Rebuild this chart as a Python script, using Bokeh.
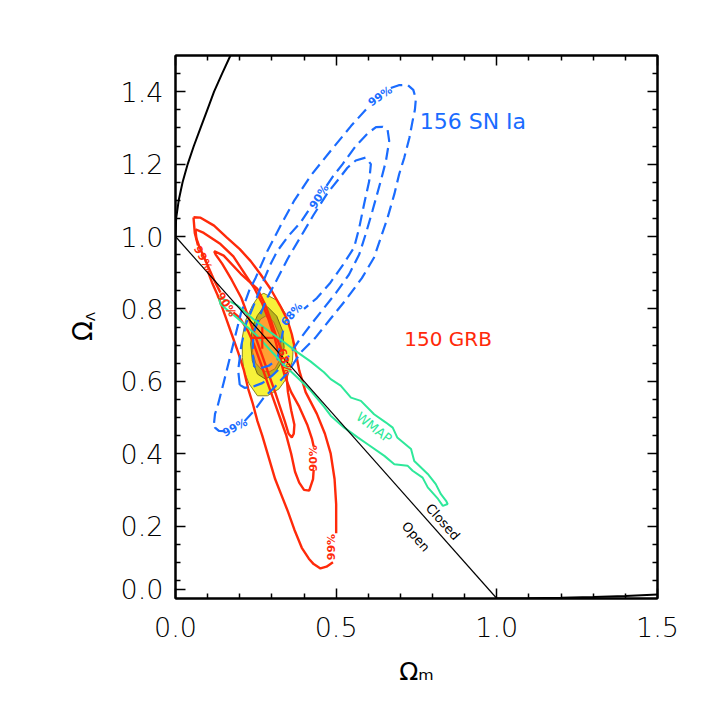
import math
from bokeh.plotting import figure
from bokeh.models import Range1d, FixedTicker, CustomJSTickFormatter, LinearAxis
from bokeh.embed import file_html
from bokeh.resources import INLINE
from bokeh.core.properties import value

NaN = float('nan')

# ---------------- data (data units) ----------------
x_major = [0.0, 0.5, 1.0, 1.5]
x_minor = [0.1, 0.2, 0.3, 0.4, 0.6, 0.7, 0.8, 0.9, 1.1, 1.2, 1.3, 1.4]
x_labels = ["0.0", "0.5", "1.0", "1.5"]
y_major = [0.025, 0.2, 0.4, 0.6, 0.8, 1.0, 1.2, 1.4]
y_labels = ["0.0", "0.2", "0.4", "0.6", "0.8", "1.0", "1.2", "1.4"]
y_major_right = [0.2, 0.4, 0.6, 0.8, 1.0, 1.2, 1.4]
y_minor = [0.05, 0.1, 0.15, 0.25, 0.3, 0.35, 0.45, 0.5, 0.55, 0.65, 0.7, 0.75, 0.85, 0.9,
           0.95, 1.05, 1.1, 1.15, 1.25, 1.3, 1.35, 1.45]

# flat universe line (open / closed)
flat_x = [0.0, 1.0]
flat_y = [1.0, 0.0]
# no-big-bang boundary
nobb_x = [0.0, 0.002, 0.01, 0.022, 0.038, 0.057, 0.078, 0.099, 0.12, 0.145, 0.171]
nobb_y = [1.0, 1.05, 1.1, 1.15, 1.2, 1.25, 1.3, 1.35, 1.4, 1.45, 1.5]
# recollapse boundary
recol_x = [1.0, 1.1, 1.2, 1.3, 1.4, 1.5]
recol_y = [0.0, 0.0005, 0.002, 0.004, 0.007, 0.011]

# GRB contours (red)
grb99_x = [0.056, 0.078, 0.12, 0.16, 0.2, 0.234, 0.265, 0.296, 0.325, 0.348, 0.362, 0.372, 0.385,
           0.405, 0.44, 0.465, 0.483, 0.495, 0.5, 0.5, NaN, 0.49, 0.47, 0.451, 0.43, 0.415, 0.393,
           0.37, 0.35, 0.33, 0.31, 0.29, 0.27, 0.255, 0.24, 0.226, 0.213, 0.195, 0.175, 0.155,
           0.135, 0.115, 0.1, NaN, 0.07, 0.06, 0.056]
grb99_y = [1.053, 1.052, 1.03, 0.997, 0.965, 0.932, 0.895, 0.855, 0.81, 0.77, 0.73, 0.69, 0.63,
           0.57, 0.51, 0.455, 0.40, 0.33, 0.26, 0.18, NaN, 0.10, 0.088, 0.083, 0.095, 0.11, 0.14,
           0.19, 0.24, 0.285, 0.33, 0.39, 0.45, 0.49, 0.54, 0.58, 0.63, 0.68, 0.73, 0.78,
           0.83, 0.87, 0.905, NaN, 0.975, 1.01, 1.053]
grb90_x = [0.062, 0.088, 0.14, 0.18, 0.203, 0.244, 0.27, 0.29, 0.31, 0.325, 0.34, 0.36, 0.385,
           0.41, 0.425, 0.43, NaN, 0.43, 0.428, 0.416, 0.40, 0.385, 0.372, 0.36, 0.345, 0.325,
           0.305, 0.285, 0.265, 0.245, 0.225, 0.2, 0.18, NaN, 0.14, 0.12, 0.105, 0.09, 0.075,
           0.065, 0.062]
grb90_y = [1.02, 1.01, 0.979, 0.945, 0.914, 0.859, 0.815, 0.77, 0.715, 0.665, 0.615, 0.57, 0.53,
           0.48, 0.44, 0.42, NaN, 0.355, 0.33, 0.298, 0.30, 0.32, 0.35, 0.40, 0.45, 0.50,
           0.55, 0.60, 0.65, 0.70, 0.74, 0.775, 0.79, NaN, 0.845, 0.88, 0.91, 0.94, 0.97,
           0.995, 1.02]
grb68_x = [0.12, 0.15, 0.203, 0.255, 0.28, 0.30, 0.315, 0.33, NaN, 0.345, 0.35, 0.36, 0.37,
           0.368, 0.362, 0.352, 0.34, 0.325, 0.31, 0.29, 0.27, 0.25, 0.23, 0.205, 0.175, 0.145,
           0.125, 0.12]
grb68_y = [0.96, 0.947, 0.897, 0.855, 0.81, 0.76, 0.72, 0.685, NaN, 0.62, 0.57, 0.52, 0.48,
           0.455, 0.445, 0.455, 0.49, 0.53, 0.57, 0.62, 0.67, 0.72, 0.77, 0.83, 0.88, 0.925,
           0.95, 0.96]
grb_best_x = [0.27]
grb_best_y = [0.72]

# SN Ia contours (blue dashed)
sn99_x = [0.12, 0.123, 0.13, 0.151, 0.177, 0.203, 0.229, 0.25, 0.286, 0.33, 0.37, 0.42, 0.483,
          0.546, 0.60, NaN, 0.67, 0.695, 0.722, 0.74, 0.748, 0.745, 0.738, 0.728, 0.712, 0.696,
          0.681, 0.66, 0.639, 0.618, 0.58, 0.53, 0.48, 0.435, 0.39, 0.35, 0.31, 0.275, 0.244,
          0.215, NaN, 0.155, 0.135, 0.123, 0.12]
sn99_y = [0.485, 0.51, 0.528, 0.60, 0.693, 0.786, 0.85, 0.887, 0.96, 1.035, 1.10, 1.167, 1.237,
          1.305, 1.358, NaN, 1.41, 1.418, 1.419, 1.405, 1.38, 1.35, 1.32, 1.273, 1.218, 1.172,
          1.117, 1.052, 0.997, 0.942, 0.885, 0.825, 0.77, 0.72, 0.68, 0.625, 0.585, 0.555, 0.518,
          0.49, NaN, 0.462, 0.463, 0.472, 0.485]
sn90_x = [0.2, 0.195, 0.205, 0.22, 0.239, 0.265, 0.296, 0.317, 0.35, 0.39, 0.42, NaN, 0.47,
          0.489, 0.52, 0.561, 0.598, 0.624, 0.645, 0.66, 0.665, 0.655, 0.639, 0.613, 0.592,
          0.572, 0.54, 0.50, 0.46, 0.42, 0.39, 0.36, 0.33, 0.30, 0.27, 0.24, 0.215, 0.2]
sn90_y = [0.59, 0.63, 0.70, 0.76, 0.80, 0.859, 0.924, 0.96, 1.0, 1.04, 1.08, NaN, 1.14,
          1.165, 1.20, 1.25, 1.285, 1.302, 1.303, 1.295, 1.264, 1.209, 1.154, 1.071, 1.007,
          0.951, 0.895, 0.845, 0.80, 0.755, 0.72, 0.68, 0.64, 0.615, 0.595, 0.585, 0.582, 0.59]
sn68_x = [0.245, 0.24, 0.242, 0.26, 0.285, 0.315, 0.35, 0.39, 0.43, 0.473, 0.509, 0.535, 0.561,
          0.592, 0.608, 0.603, 0.587, 0.572, 0.556, 0.52, 0.48, 0.44, 0.40, NaN, 0.335, 0.325,
          0.317, 0.29, 0.26, 0.245]
sn68_y = [0.64, 0.68, 0.73, 0.776, 0.83, 0.88, 0.94, 1.0, 1.06, 1.12, 1.16, 1.19, 1.21,
          1.218, 1.20, 1.154, 1.09, 1.025, 0.97, 0.92, 0.87, 0.83, 0.80, NaN, 0.74, 0.70,
          0.66, 0.643, 0.635, 0.64]

# WMAP contour (green)
wmap_x = [0.135, 0.17, 0.192, 0.244, 0.296, 0.338, 0.38, 0.42, 0.462, 0.483, 0.514, 0.546, 0.577,
          0.618, 0.655, 0.676, 0.69, 0.733, 0.743, 0.785, 0.81, 0.826, 0.842, 0.847, 0.832,
          0.817, 0.785, 0.769, 0.738, 0.722, 0.681, 0.65, 0.598, 0.567, 0.525, 0.483, 0.462,
          0.42, 0.38, 0.338, 0.296, 0.255, 0.192, 0.14, 0.135]
wmap_y = [0.831, 0.82, 0.81, 0.77, 0.735, 0.708, 0.68, 0.655, 0.625, 0.606, 0.588, 0.555, 0.546,
          0.509, 0.486, 0.472, 0.445, 0.413, 0.38, 0.344, 0.316, 0.288, 0.27, 0.261, 0.256,
          0.275, 0.307, 0.334, 0.353, 0.367, 0.371, 0.394, 0.426, 0.445, 0.472, 0.505, 0.53,
          0.575, 0.61, 0.645, 0.685, 0.725, 0.775, 0.813, 0.831]

# combined constraint (filled)
comb95_x = [0.275, 0.317, 0.343, 0.359, 0.367, 0.364, 0.348, 0.322, 0.286, 0.255, 0.229, 0.213,
            0.208, 0.208, 0.218, 0.239, 0.26]
comb95_y = [0.843, 0.823, 0.786, 0.74, 0.703, 0.657, 0.611, 0.579, 0.56, 0.56, 0.593, 0.629,
            0.666, 0.722, 0.768, 0.809, 0.837]
comb90_x = [0.286, 0.315, 0.333, 0.338, 0.327, 0.307, 0.28, 0.255, 0.239, 0.234, 0.239, 0.255, 0.27]
comb90_y = [0.806, 0.78, 0.74, 0.694, 0.648, 0.62, 0.606, 0.62, 0.657, 0.703, 0.749, 0.782, 0.80]
comb68_x = [0.28, 0.305, 0.322, 0.33, 0.325, 0.31, 0.29, 0.27, 0.25, 0.24, 0.24, 0.25, 0.265]
comb68_y = [0.78, 0.765, 0.73, 0.69, 0.66, 0.635, 0.625, 0.63, 0.65, 0.68, 0.72, 0.75, 0.772]

# contour labels
red_lab_x = [0.085, 0.158, 0.34, 0.43, 0.487]
red_lab_y = [0.94, 0.812, 0.655, 0.387, 0.142]
red_lab_t = ["99%", "90%", "68%", "90%", "99%"]
red_lab_a = [-62, -58, -75, 90, 90]
blue_lab_x = [0.185, 0.637, 0.447, 0.362]
blue_lab_y = [0.472, 1.387, 1.11, 0.785]
blue_lab_t = ["99%", "99%", "90%", "68%"]
blue_lab_a = [28, 35, 58, 50]

# ---------------- figure ----------------
p = figure(width=700, height=700, output_backend="svg", toolbar_location=None,
           x_range=Range1d(0, 1.5), y_range=Range1d(0, 1.5),
           x_axis_location=None, y_axis_location=None,
           min_border_left=175, min_border_right=43, min_border_top=55, min_border_bottom=102)
p.xgrid.visible = False
p.ygrid.visible = False
p.outline_line_color = "black"
p.outline_line_width = 2
p.background_fill_color = "white"
p.border_fill_color = "white"

FONT = "DejaVu Sans"
TICKFONT = "'DejaVu Sans Light', 'DejaVu Sans'"
lab_code = ("for (let i = 0; i < pos.length; i++) { if (Math.abs(pos[i] - tick) < 1e-6) return labs[i]; }"
            " return '';")


def make_axis(ticks, minors, labels, show):
    if show:
        fmt = CustomJSTickFormatter(args=dict(pos=ticks, labs=labels), code=lab_code)
    else:
        fmt = CustomJSTickFormatter(code="return '';")
    ax = LinearAxis(ticker=FixedTicker(ticks=ticks, minor_ticks=minors), formatter=fmt)
    ax.major_tick_in = 10
    ax.major_tick_out = 0
    ax.minor_tick_in = 5
    ax.minor_tick_out = 0
    ax.axis_line_width = 2
    ax.major_tick_line_width = 1.5
    ax.minor_tick_line_width = 1.5
    ax.major_label_text_font = TICKFONT
    ax.major_label_text_font_size = "27px"
    ax.major_label_text_color = "black"
    return ax


def label_axis(text, size, standoff, font=FONT):
    ax = LinearAxis(ticker=FixedTicker(ticks=[]), axis_label=text)
    ax.axis_line_color = None
    ax.major_tick_line_color = None
    ax.minor_tick_line_color = None
    ax.major_label_text_font_size = "0px"
    ax.major_label_standoff = 0
    ax.axis_label_standoff = standoff
    ax.axis_label_text_font = font
    ax.axis_label_text_font_size = size
    ax.axis_label_text_font_style = "normal"
    ax.axis_label_text_color = "black"
    return ax


xb = make_axis(x_major, x_minor, x_labels, True)
xb.major_label_standoff = 18
xb.axis_label = "Ω\u2098"
xb.axis_label_standoff = 17
xb.axis_label_text_font = FONT
xb.axis_label_text_font_size = "25px"
xb.axis_label_text_font_style = "normal"
xb.axis_label_text_color = "black"

yl = make_axis(y_major, y_minor, y_labels, True)
yl.major_label_standoff = 12
xt = make_axis(x_major, x_minor, x_labels, False)
yr = make_axis(y_major_right, y_minor, y_labels, False)
p.add_layout(xb, "below")
p.add_layout(yl, "left")
p.add_layout(label_axis("\u00a0" * 5 + "Λ", "13px", 20), "left")
p.add_layout(label_axis("Ω\u00a0", "26px", -18), "left")
p.add_layout(xt, "above")
p.add_layout(yr, "right")

# filled combined regions
p.patch(comb95_x, comb95_y, fill_color="#f7f23a", line_color="#8a8420", line_width=1)
p.patch(comb90_x, comb90_y, fill_color="#bcb21c", line_color="#6e6a10", line_width=1)
p.patch(comb68_x, comb68_y, fill_color="#ffa032", line_color="#b07020", line_width=1)

RED = "#ff2a0a"
BLUE = "#1a6cff"
GREEN = "#2ee89a"

for xs, ys in [(grb99_x, grb99_y), (grb90_x, grb90_y), (grb68_x, grb68_y)]:
    p.line(xs, ys, line_color=RED, line_width=2.4)
for xs, ys in [(sn99_x, sn99_y), (sn90_x, sn90_y), (sn68_x, sn68_y)]:
    p.line(xs, ys, line_color=BLUE, line_width=2.2, line_dash="12 6")
p.line(wmap_x, wmap_y, line_color=GREEN, line_width=2)

p.scatter(grb_best_x, grb_best_y, marker="cross", size=22, line_color=RED, line_width=2.2)

p.line(flat_x, flat_y, line_color="black", line_width=1.2)
p.line(nobb_x, nobb_y, line_color="black", line_width=2)
p.line(recol_x, recol_y, line_color="black", line_width=2)

p.text(red_lab_x, red_lab_y, text=red_lab_t, angle=red_lab_a, angle_units="deg",
       text_color=RED, text_font=value(FONT), text_font_size=value("11px"),
       text_font_style="bold", text_align="center", text_baseline="middle")
p.text(blue_lab_x, blue_lab_y, text=blue_lab_t, angle=blue_lab_a, angle_units="deg",
       text_color=BLUE, text_font=value(FONT), text_font_size=value("11px"),
       text_font_style="bold", text_align="center", text_baseline="middle")

# region names
p.text([0.76], [1.317], text=["156 SN Ia"], text_color=BLUE, text_font=value(FONT),
       text_font_size=value("22px"), text_align="left", text_baseline="middle")
p.text([0.712], [0.717], text=["150 GRB"], text_color=RED, text_font=value(FONT),
       text_font_size=value("20px"), text_align="left", text_baseline="middle")
p.text([0.618], [0.472], text=["WMAP"], angle=[-38], angle_units="deg", text_color=GREEN,
       text_font=value(FONT), text_font_size=value("13px"), text_align="center",
       text_baseline="middle")
p.text([0.832, 0.748], [0.212, 0.171], text=["Closed", "Open"], angle=[-48.4, -48.4],
       angle_units="deg", text_color="black", text_font=value(FONT),
       text_font_size=value("13px"), text_align="center", text_baseline="middle")

open("out.html", "w").write(file_html(p, INLINE))
